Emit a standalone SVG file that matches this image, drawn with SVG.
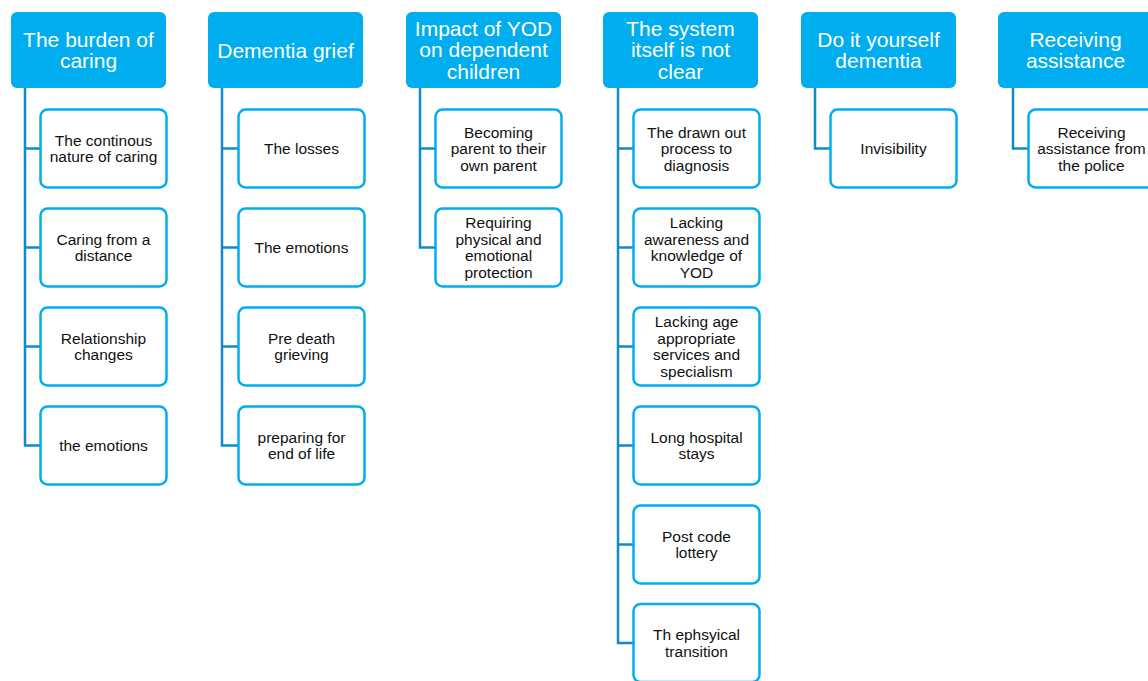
<svg xmlns="http://www.w3.org/2000/svg" width="1148" height="681" viewBox="0 0 1148 681">
<style>
.hdr{fill:#00ADEF;}
.hdr-t{fill:#FFFFFF;font-family:"Liberation Sans",Arial,sans-serif;font-size:21px;text-anchor:middle;}
.child{fill:#FFFFFF;stroke:#00ADEF;stroke-width:2.5;}
.child-t{fill:#111111;font-family:"Liberation Sans",Arial,sans-serif;font-size:15.5px;text-anchor:middle;}
.conn{fill:none;stroke:#118ACB;stroke-width:2.5;}
</style>
<rect width="1148" height="681" fill="#FFFFFF"/>
<g id="connectors">
<path class="conn" d="M25,88 V445.5 H40 M25,148.5 H40 M25,247.5 H40 M25,346.5 H40"/>
<path class="conn" d="M222,88 V445.5 H238 M222,148.5 H238 M222,247.5 H238 M222,346.5 H238"/>
<path class="conn" d="M420,88 V247.5 H435 M420,148.5 H435"/>
<path class="conn" d="M618,88 V643 H633 M618,148.5 H633 M618,247.5 H633 M618,346.5 H633 M618,445.5 H633 M618,544.5 H633"/>
<path class="conn" d="M815,88 V148.5 H830"/>
<path class="conn" d="M1013,88 V148.5 H1028"/>
</g>
<g id="h1"><rect class="hdr" x="11" y="12" width="155" height="76" rx="6"/><text class="hdr-t" x="88.5"><tspan x="88.5" y="46.5">The burden of</tspan><tspan x="88.5" y="68">caring</tspan></text></g>
<g id="h2"><rect class="hdr" x="208" y="12" width="155" height="76" rx="6"/><text class="hdr-t" x="285.5" y="57.5">Dementia grief</text></g>
<g id="h3"><rect class="hdr" x="406" y="12" width="155" height="76" rx="6"/><text class="hdr-t"><tspan x="483.5" y="35.5">Impact of YOD</tspan><tspan x="483.5" y="57">on dependent</tspan><tspan x="483.5" y="78.5">children</tspan></text></g>
<g id="h4"><rect class="hdr" x="603" y="12" width="155" height="76" rx="6"/><text class="hdr-t"><tspan x="680.5" y="35.5">The system</tspan><tspan x="680.5" y="57">itself is not</tspan><tspan x="680.5" y="78.5">clear</tspan></text></g>
<g id="h5"><rect class="hdr" x="801" y="12" width="155" height="76" rx="6"/><text class="hdr-t"><tspan x="878.5" y="46.5">Do it yourself</tspan><tspan x="878.5" y="68">dementia</tspan></text></g>
<g id="h6"><rect class="hdr" x="998" y="12" width="155" height="76" rx="6"/><text class="hdr-t"><tspan x="1075.5" y="46.5">Receiving</tspan><tspan x="1075.5" y="68">assistance</tspan></text></g>

<g id="c1a"><rect class="child" x="40.5" y="109.5" width="126" height="78" rx="7"/><text class="child-t"><tspan x="103.5" y="145.75">The continous</tspan><tspan x="103.5" y="162.25">nature of caring</tspan></text></g>
<g id="c1b"><rect class="child" x="40.5" y="208.5" width="126" height="78" rx="7"/><text class="child-t"><tspan x="103.5" y="244.75">Caring from a</tspan><tspan x="103.5" y="261.25">distance</tspan></text></g>
<g id="c1c"><rect class="child" x="40.5" y="307.5" width="126" height="78" rx="7"/><text class="child-t"><tspan x="103.5" y="343.75">Relationship</tspan><tspan x="103.5" y="360.25">changes</tspan></text></g>
<g id="c1d"><rect class="child" x="40.5" y="406.5" width="126" height="78" rx="7"/><text class="child-t" x="103.5" y="451">the emotions</text></g>

<g id="c2a"><rect class="child" x="238.5" y="109.5" width="126" height="78" rx="7"/><text class="child-t" x="301.5" y="154">The losses</text></g>
<g id="c2b"><rect class="child" x="238.5" y="208.5" width="126" height="78" rx="7"/><text class="child-t" x="301.5" y="253">The emotions</text></g>
<g id="c2c"><rect class="child" x="238.5" y="307.5" width="126" height="78" rx="7"/><text class="child-t"><tspan x="301.5" y="343.75">Pre death</tspan><tspan x="301.5" y="360.25">grieving</tspan></text></g>
<g id="c2d"><rect class="child" x="238.5" y="406.5" width="126" height="78" rx="7"/><text class="child-t"><tspan x="301.5" y="442.75">preparing for</tspan><tspan x="301.5" y="459.25">end of life</tspan></text></g>

<g id="c3a"><rect class="child" x="435.5" y="109.5" width="126" height="78" rx="7"/><text class="child-t"><tspan x="498.5" y="137.5">Becoming</tspan><tspan x="498.5" y="154">parent to their</tspan><tspan x="498.5" y="170.5">own parent</tspan></text></g>
<g id="c3b"><rect class="child" x="435.5" y="208.5" width="126" height="78" rx="7"/><text class="child-t"><tspan x="498.5" y="228.25">Requiring</tspan><tspan x="498.5" y="244.75">physical and</tspan><tspan x="498.5" y="261.25">emotional</tspan><tspan x="498.5" y="277.75">protection</tspan></text></g>

<g id="c4a"><rect class="child" x="633.5" y="109.5" width="126" height="78" rx="7"/><text class="child-t"><tspan x="696.5" y="137.5">The drawn out</tspan><tspan x="696.5" y="154">process to</tspan><tspan x="696.5" y="170.5">diagnosis</tspan></text></g>
<g id="c4b"><rect class="child" x="633.5" y="208.5" width="126" height="78" rx="7"/><text class="child-t"><tspan x="696.5" y="228.25">Lacking</tspan><tspan x="696.5" y="244.75">awareness and</tspan><tspan x="696.5" y="261.25">knowledge of</tspan><tspan x="696.5" y="277.75">YOD</tspan></text></g>
<g id="c4c"><rect class="child" x="633.5" y="307.5" width="126" height="78" rx="7"/><text class="child-t"><tspan x="696.5" y="327.25">Lacking age</tspan><tspan x="696.5" y="343.75">appropriate</tspan><tspan x="696.5" y="360.25">services and</tspan><tspan x="696.5" y="376.75">specialism</tspan></text></g>
<g id="c4d"><rect class="child" x="633.5" y="406.5" width="126" height="78" rx="7"/><text class="child-t"><tspan x="696.5" y="442.75">Long hospital</tspan><tspan x="696.5" y="459.25">stays</tspan></text></g>
<g id="c4e"><rect class="child" x="633.5" y="505.5" width="126" height="78" rx="7"/><text class="child-t"><tspan x="696.5" y="541.75">Post code</tspan><tspan x="696.5" y="558.25">lottery</tspan></text></g>
<g id="c4f"><rect class="child" x="633.5" y="604" width="126" height="78" rx="7"/><text class="child-t"><tspan x="696.5" y="640.25">Th ephsyical</tspan><tspan x="696.5" y="656.75">transition</tspan></text></g>

<g id="c5a"><rect class="child" x="830.5" y="109.5" width="126" height="78" rx="7"/><text class="child-t" x="893.5" y="154">Invisibility</text></g>

<g id="c6a"><rect class="child" x="1028.5" y="109.5" width="126" height="78" rx="7"/><text class="child-t"><tspan x="1091.5" y="137.5">Receiving</tspan><tspan x="1091.5" y="154">assistance from</tspan><tspan x="1091.5" y="170.5">the police</tspan></text></g>
</svg>
